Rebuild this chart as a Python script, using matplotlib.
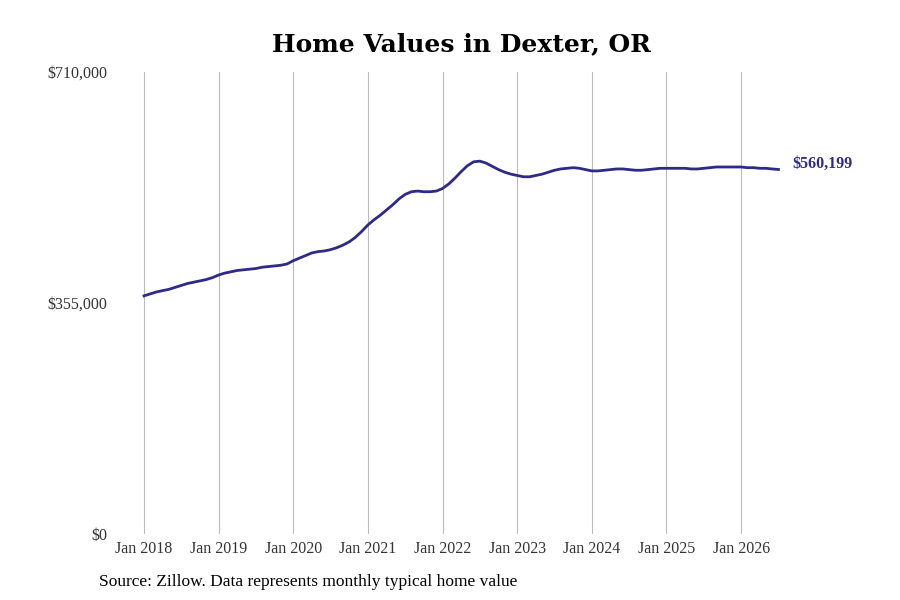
import matplotlib.pyplot as plt
import numpy as np

plt.rcParams['font.family'] = ['Liberation Serif', 'DejaVu Serif']

# monthly typical home value, Jan 2018 .. Jul 2026 (thousands)
values_k = [
    366, 369, 372, 374, 376, 379, 382, 385, 387, 389, 391, 394,
    398, 401, 403, 405, 406, 407, 408, 410, 411, 412, 413, 415,
    420, 424, 428, 432, 434, 435, 437, 440, 444, 449, 456, 465,
    475, 483, 490, 498, 506, 515, 522, 526, 527, 526, 526, 527,
    531, 538, 547, 557, 566, 572, 573, 570, 565, 560, 556, 553,
    551, 549, 549, 551, 553, 556, 559, 561, 562, 563, 562, 560,
    558, 558, 559, 560, 561, 561, 560, 559, 559, 560, 561, 562,
    562, 562, 562, 562, 561, 561, 562, 563, 564, 564, 564, 564,
    564, 563, 563, 562, 562, 561, 560.199,
]
values = np.array(values_k) * 1000
months = np.arange(len(values))
tick_years = list(range(2018, 2027))
tick_labels = [f"Jan {y}" for y in tick_years]
y_ticks = [0, 355000, 710000]
y_labels = ["$0", "$355,000", "$710,000"]
color = "#2e2a85"

fig = plt.figure(figsize=(9, 6), dpi=100)
ax = fig.add_axes([120 / 900, 66 / 600, 680 / 900, 462 / 600])
ax.plot(months, values, color=color, lw=2)
ax.set_xlim(-24 / 6.22, -24 / 6.22 + 680 / 6.22)
ax.set_ylim(0, 710000)
ax.set_xticks([12 * i for i in range(len(tick_years))])
ax.set_xticklabels(tick_labels, fontsize=11.5, color="#333333")
ax.set_yticks(y_ticks)
ax.set_yticklabels(y_labels, fontsize=11.5, color="#333333")
ax.grid(axis="x", color="#bbbbbb", lw=0.8)
ax.tick_params(length=0, pad=5)
ax.tick_params(axis="y", pad=9)
for s in ax.spines.values():
    s.set_visible(False)
ax.annotate(f"${values[-1]:,.0f}", (months[-1], values[-1]), xytext=(10, 4),
            textcoords="offset points", va="center", ha="left",
            color=color, fontsize=11.5, fontweight="bold")
fig.text(461 / 900, 0.927, "Home Values in Dexter, OR", ha="center", va="center",
         fontsize=18, fontweight="bold", family=["DejaVu Serif"])
fig.text(99 / 900, 1 - 582 / 600, "Source: Zillow. Data represents monthly typical home value",
         ha="left", va="center", fontsize=12.5)
fig.savefig("out.png")
